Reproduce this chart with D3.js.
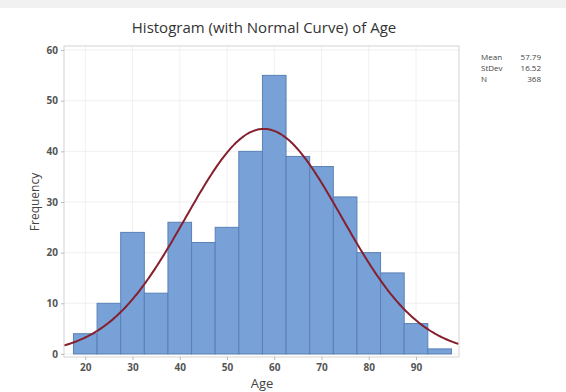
<!DOCTYPE html>
<html>
<head>
<meta charset="utf-8">
<script src="https://cdn.jsdelivr.net/npm/d3@7"></script>
<style>
  body { margin: 0; background: #fff; }
  svg { font-family: "Open Sans", "Noto Sans", sans-serif; }
</style>
</head>
<body>
<div class="hist-chart"></div>
<script>
// bins of width 5, centered on these ages
var binMids = [20, 25, 30, 35, 40, 45, 50, 55, 60, 65, 70, 75, 80, 85, 90, 95];
var counts = [4, 10, 24, 12, 26, 22, 25, 40, 55, 39, 37, 31, 20, 16, 6, 1];
var binWidth = 5;
var xTicks = [20, 30, 40, 50, 60, 70, 80, 90];
var yTicks = [0, 10, 20, 30, 40, 50, 60];
var statLabels = ["Mean", "StDev", "N"];
var statValues = ["57.79", "16.52", "368"];
var mean = 57.79;
var sd = 16.52;
var n = 368;

var width = 566;
var height = 392;

var svg = d3.select(".hist-chart")
  .append("svg")
  .attr("width", width)
  .attr("height", height);

// light band across the top of the window
svg.append("rect")
  .attr("x", 0).attr("y", 0)
  .attr("width", width).attr("height", 8)
  .attr("fill", "#f1f1f1");

var frame = { left: 64, right: 459, top: 46, bottom: 357 };

var x = d3.scaleLinear()
  .domain([15.5, 99.1])
  .range([frame.left, frame.right]);

var y = d3.scaleLinear()
  .domain([-0.6, 60.8])
  .range([frame.bottom, frame.top]);

// gridlines
svg.append("g")
  .selectAll("line.vg")
  .data(xTicks)
  .enter().append("line")
  .attr("x1", function(d) { return x(d); })
  .attr("x2", function(d) { return x(d); })
  .attr("y1", frame.top)
  .attr("y2", frame.bottom)
  .attr("stroke", "#f0f0f0");

svg.append("g")
  .selectAll("line.hg")
  .data(yTicks)
  .enter().append("line")
  .attr("x1", frame.left)
  .attr("x2", frame.right)
  .attr("y1", function(d) { return y(d); })
  .attr("y2", function(d) { return y(d); })
  .attr("stroke", "#f0f0f0");

// bars
svg.append("g")
  .selectAll("rect")
  .data(binMids)
  .enter().append("rect")
  .attr("x", function(d) { return x(d - binWidth / 2); })
  .attr("width", function(d) { return x(d + binWidth / 2) - x(d - binWidth / 2); })
  .attr("y", function(d, i) { return y(counts[i]); })
  .attr("height", function(d, i) { return y(0) - y(counts[i]); })
  .attr("fill", "#78a1d7")
  .attr("stroke", "#5a80b6")
  .attr("stroke-width", 1);

// normal curve scaled to counts
var curvePts = d3.range(x.domain()[0], x.domain()[1] + 0.01, 0.25);
var line = d3.line()
  .x(function(d) { return x(d); })
  .y(function(d) {
    var z = (d - mean) / sd;
    return y(n * binWidth * Math.exp(-0.5 * z * z) / (sd * Math.sqrt(2 * Math.PI)));
  })
  .curve(d3.curveBasis);

svg.append("path")
  .datum(curvePts)
  .attr("d", line)
  .attr("fill", "none")
  .attr("stroke", "#85202f")
  .attr("stroke-width", 2);

// frame
svg.append("rect")
  .attr("x", frame.left)
  .attr("y", frame.top)
  .attr("width", frame.right - frame.left)
  .attr("height", frame.bottom - frame.top)
  .attr("fill", "none")
  .attr("stroke", "#d4d4d4");

// axes
var xAxis = svg.append("g")
  .attr("transform", "translate(0," + frame.bottom + ")")
  .call(d3.axisBottom(x).tickValues(xTicks).tickSize(3).tickPadding(4));
var yAxis = svg.append("g")
  .attr("transform", "translate(" + frame.left + ",0)")
  .call(d3.axisLeft(y).tickValues(yTicks).tickSize(3).tickPadding(3));

[xAxis, yAxis].forEach(function(a) {
  a.select(".domain").remove();
  a.selectAll("line").attr("stroke", "#bbb");
  a.selectAll("text")
    .style("font-family", "'Open Sans', sans-serif")
    .style("font-size", "10px")
    .style("font-weight", "bold")
    .attr("fill", "#555");
});

// title and labels
svg.append("text")
  .attr("x", 264)
  .attr("y", 33)
  .attr("text-anchor", "middle")
  .style("font-size", "15px")
  .attr("fill", "#333")
  .text("Histogram (with Normal Curve) of Age");

svg.append("text")
  .attr("x", 262)
  .attr("y", 388)
  .attr("text-anchor", "middle")
  .style("font-size", "13px")
  .attr("fill", "#444")
  .text("Age");

svg.append("text")
  .attr("transform", "translate(39,202) rotate(-90)")
  .attr("text-anchor", "middle")
  .style("font-size", "12px")
  .attr("fill", "#444")
  .text("Frequency");

// stats box
var stats = svg.append("g");
stats.selectAll("text.lab")
  .data(statLabels)
  .enter().append("text")
  .attr("x", 481)
  .attr("y", function(d, i) { return 60 + i * 11; })
  .style("font-size", "8px")
  .attr("fill", "#444")
  .text(function(d) { return d; });
stats.selectAll("text.val")
  .data(statValues)
  .enter().append("text")
  .attr("x", 541)
  .attr("y", function(d, i) { return 60 + i * 11; })
  .attr("text-anchor", "end")
  .style("font-size", "8px")
  .attr("fill", "#444")
  .text(function(d) { return d; });
</script>
</body>
</html>
